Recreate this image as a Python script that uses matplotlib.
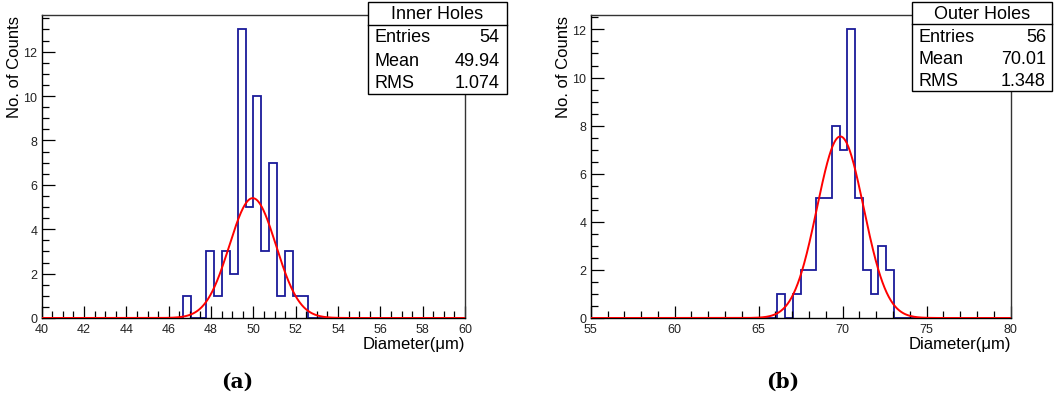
import numpy as np
import matplotlib
matplotlib.use("Agg")
import matplotlib.pyplot as plt
from matplotlib.ticker import MultipleLocator
from matplotlib.patches import Rectangle
from matplotlib.lines import Line2D

plt.rcParams['font.family'] = ['Liberation Sans', 'DejaVu Sans']

# ---------------- data ----------------
inner_range = (40, 60)
inner_counts = [0]*18 + [1, 0, 0, 3, 1, 3, 2, 13, 5, 10, 3, 7, 1, 3, 1, 1] + [0]*20
inner_fit = dict(amp=5.4, mean=49.97, sigma=1.10)
inner_stats = [("Entries", "54"), ("Mean", "49.94"), ("RMS", "1.074")]
inner_title = "Inner Holes"

outer_range = (55, 80)
outer_counts = [0]*24 + [1, 0, 1, 2, 2, 5, 5, 8, 7, 12, 5, 2, 1, 3, 2] + [0]*15
outer_fit = dict(amp=7.55, mean=69.86, sigma=1.39)
outer_stats = [("Entries", "56"), ("Mean", "70.01"), ("RMS", "1.348")]
outer_title = "Outer Holes"

W, H = 1056, 410
fig = plt.figure(figsize=(W/100, H/100), dpi=100)

def px_axes(x0, x1, ytop, ybot):
    return fig.add_axes([x0/W, (H-ybot)/H, (x1-x0)/W, (ybot-ytop)/H])

def draw_panel(ax, rng, counts, fit, xmajor, xminor):
    edges = np.linspace(rng[0], rng[1], len(counts)+1)
    ax.stairs(counts, edges, color='#1a1a9a', lw=1.3)
    xs = np.linspace(rng[0], rng[1], 800)
    ys = fit['amp']*np.exp(-0.5*((xs-fit['mean'])/fit['sigma'])**2)
    ax.plot(xs, ys, color='#ff0000', lw=1.4, zorder=3)
    ax.set_xlim(*rng)
    ax.set_ylim(0, max(counts)*1.05)
    ax.xaxis.set_major_locator(MultipleLocator(xmajor))
    ax.xaxis.set_minor_locator(MultipleLocator(xminor))
    ax.yaxis.set_major_locator(MultipleLocator(2))
    ax.yaxis.set_minor_locator(MultipleLocator(0.5))
    ax.tick_params(which='both', direction='in', top=False, right=False,
                   labelsize=9, labelcolor='#222222', width=0.9)
    ax.tick_params(which='major', length=9)
    ax.tick_params(which='minor', length=5)
    ax.tick_params(axis='x', which='major', pad=3.5)
    ax.tick_params(axis='y', which='major', pad=3)
    for s in ax.spines.values():
        s.set_linewidth(1.0)
        s.set_color('#333333')
    ax.spines['bottom'].set_color('black')
    ax.spines['left'].set_color('black')
    ax.set_xlabel("Diameter(μm)", fontsize=12, loc='right', labelpad=0.5)
    ax.set_ylabel("No. of Counts", fontsize=12, loc='top', labelpad=1)

def stats_box(x0, x1, ytop, ybot, ysep, title, stats, rows_y, lab_x, val_x):
    fx = lambda x: x/W
    fy = lambda y: (H-y)/H
    fig.patches.append(Rectangle((fx(x0), fy(ybot)), fx(x1)-fx(x0), fy(ytop)-fy(ybot),
                                 transform=fig.transFigure, facecolor='white',
                                 edgecolor='black', lw=1.0, zorder=10))
    fig.lines.append(Line2D([fx(x0), fx(x1)], [fy(ysep), fy(ysep)],
                            transform=fig.transFigure, color='black', lw=1.0, zorder=11))
    fig.text(fx((x0+x1)/2), fy((ytop+ysep)/2+0.5), title, ha='center', va='center',
             fontsize=13, zorder=12)
    for (lab, val), yy in zip(stats, rows_y):
        fig.text(fx(lab_x), fy(yy), lab, ha='left', va='center', fontsize=13, zorder=12)
        fig.text(fx(val_x), fy(yy), val, ha='right', va='center', fontsize=13, zorder=12)

ax1 = px_axes(41.7, 465, 16, 319)
draw_panel(ax1, inner_range, inner_counts, inner_fit, 2, 0.5)
ax2 = px_axes(590.7, 1010.7, 16, 319)
draw_panel(ax2, outer_range, outer_counts, outer_fit, 5, 1)

stats_box(367.7, 506.7, 2.7, 95, 26, inner_title, inner_stats, [38, 61, 83.5], 375, 499.5)
stats_box(911.7, 1051.7, 3, 92, 25, outer_title, outer_stats, [38, 60, 81.5], 918.3, 1046)

fig.text(237/W, (H-382)/H, '(a)', ha='center', va='center', fontsize=14.5,
         family='DejaVu Serif', weight='bold')
fig.text(783/W, (H-382)/H, '(b)', ha='center', va='center', fontsize=14.5,
         family='DejaVu Serif', weight='bold')

fig.savefig("out.png", dpi=100)
